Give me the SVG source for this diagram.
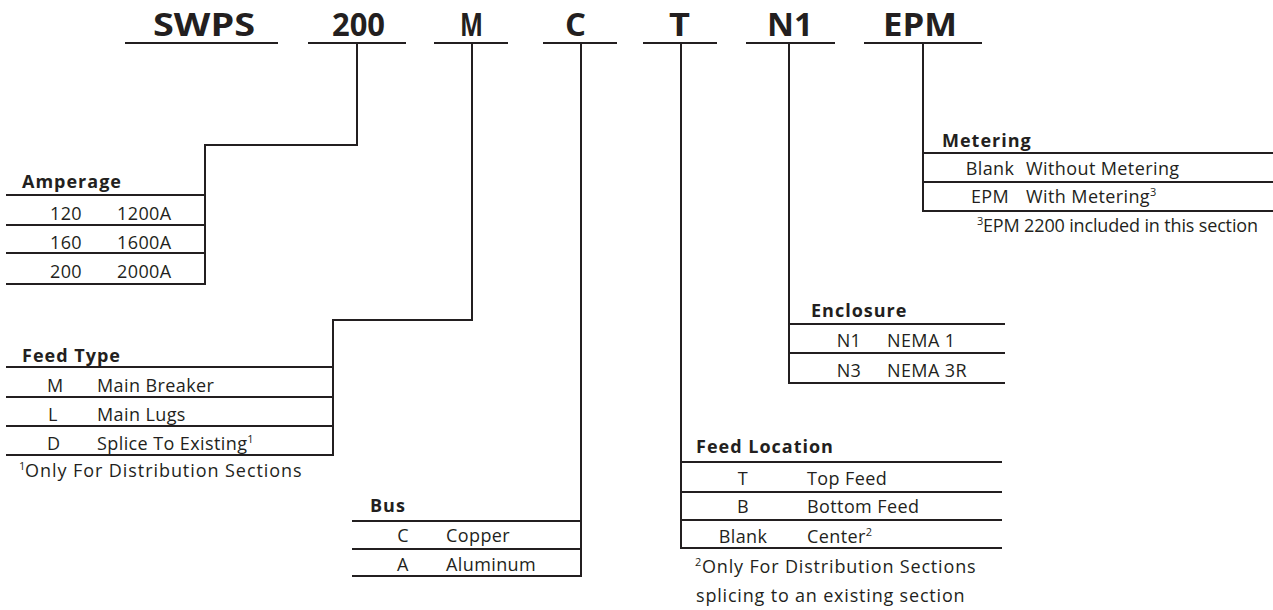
<svg xmlns="http://www.w3.org/2000/svg" width="1273" height="610" viewBox="0 0 1273 610">
<style>
.bg{fill:#ffffff}
.ln{stroke:#231f20;stroke-width:2;fill:none}
.ttl{font-family:"Open Sans","Noto Sans",sans-serif;font-weight:700;font-size:33px;fill:#231f20}
.hd{font-family:"Open Sans","Noto Sans",sans-serif;font-weight:700;font-size:18px;letter-spacing:1px;fill:#231f20}
.tx{font-family:"Open Sans","Noto Sans",sans-serif;font-size:18px;letter-spacing:0.4px;fill:#231f20}
.c{text-anchor:middle}
.sup{font-size:11px}
.ns{letter-spacing:0px}
</style>
<rect class="bg" x="0" y="0" width="1273" height="610"/>
<g id="title">
<text class="ttl" x="153" y="36" textLength="102" lengthAdjust="spacingAndGlyphs">SWPS</text>
<text class="ttl" x="332" y="36" textLength="53" lengthAdjust="spacingAndGlyphs">200</text>
<text class="ttl" x="460" y="36" textLength="23" lengthAdjust="spacingAndGlyphs">M</text>
<text class="ttl" x="565" y="36" textLength="21" lengthAdjust="spacingAndGlyphs">C</text>
<text class="ttl" x="669" y="36" textLength="21" lengthAdjust="spacingAndGlyphs">T</text>
<text class="ttl" x="767" y="36" textLength="46" lengthAdjust="spacingAndGlyphs">N1</text>
<text class="ttl" x="883" y="36" textLength="74" lengthAdjust="spacingAndGlyphs">EPM</text>
<path class="ln" d="M125,43H278M308,43H406M434,43H508M543,43H617M643,43H717M746,43H835M864,43H982"/>
</g>
<g id="connectors">
<path class="ln" d="M357,43V145H205V285"/>
<path class="ln" d="M472,43V320H333V456"/>
<path class="ln" d="M581,43V577"/>
<path class="ln" d="M681,43V549"/>
<path class="ln" d="M789,43V384"/>
<path class="ln" d="M923,43V212"/>
</g>
<g id="amperage">
<path class="ln" d="M6,195H205M6,225H205M6,253H205M6,284H205"/>
<text class="hd" x="22" y="188">Amperage</text>
<text class="tx c" x="66" y="220">120</text><text class="tx" x="117" y="220">1200A</text>
<text class="tx c" x="66" y="249">160</text><text class="tx" x="117" y="249">1600A</text>
<text class="tx c" x="66" y="278">200</text><text class="tx" x="117" y="278">2000A</text>
</g>
<g id="feedtype">
<path class="ln" d="M6,367H333M6,397H333M6,426H333M6,455H333"/>
<text class="hd" x="22" y="362">Feed Type</text>
<text class="tx" x="47" y="392">M</text><text class="tx" x="97" y="392">Main Breaker</text>
<text class="tx" x="48" y="421">L</text><text class="tx" x="97" y="421">Main Lugs</text>
<text class="tx" x="47" y="450">D</text><text class="tx" x="97" y="450">Splice To Existing<tspan class="sup" dy="-7">1</tspan></text>
<text class="tx sup" x="19" y="470">1</text>
<text class="tx" x="25" y="477" textLength="277" lengthAdjust="spacing">Only For Distribution Sections</text>
</g>
<g id="bus">
<path class="ln" d="M352,521H581M352,549H581M352,576H581"/>
<text class="hd" x="370" y="512">Bus</text>
<text class="tx c" x="403" y="542">C</text><text class="tx" x="446" y="542">Copper</text>
<text class="tx c" x="403" y="571">A</text><text class="tx" x="446" y="571">Aluminum</text>
</g>
<g id="feedlocation">
<path class="ln" d="M681,462H1002M681,492H1002M681,520H1002M681,548H1002"/>
<text class="hd" x="696" y="453">Feed Location</text>
<text class="tx c" x="743" y="485">T</text><text class="tx" x="807" y="485">Top Feed</text>
<text class="tx c" x="743" y="513">B</text><text class="tx" x="807" y="513">Bottom Feed</text>
<text class="tx c" x="743" y="543">Blank</text><text class="tx" x="807" y="543">Center<tspan class="sup" dy="-7">2</tspan></text>
<text class="tx sup" x="695" y="566">2</text>
<text class="tx" x="702" y="573" textLength="274" lengthAdjust="spacing">Only For Distribution Sections</text>
<text class="tx" x="696" y="602" textLength="269" lengthAdjust="spacing">splicing to an existing section</text>
</g>
<g id="enclosure">
<path class="ln" d="M789,324H1005M789,353H1005M789,383H1005"/>
<text class="hd" x="811" y="317">Enclosure</text>
<text class="tx c" x="849" y="347">N1</text><text class="tx" x="887" y="347">NEMA 1</text>
<text class="tx c" x="849" y="377">N3</text><text class="tx" x="887" y="377">NEMA 3R</text>
</g>
<g id="metering">
<path class="ln" d="M923,153H1273M923,182H1273M923,211H1273"/>
<text class="hd" x="942" y="147">Metering</text>
<text class="tx c" x="990" y="175">Blank</text><text class="tx" x="1026" y="175">Without Metering</text>
<text class="tx c" x="990" y="203">EPM</text><text class="tx" x="1026" y="203">With Metering<tspan class="sup" dy="-7">3</tspan></text>
<text class="tx sup" x="977" y="225">3</text>
<text class="tx ns" x="983" y="232" font-size="17.6" textLength="275" lengthAdjust="spacing">EPM 2200 included in this section</text>
</g>
</svg>
